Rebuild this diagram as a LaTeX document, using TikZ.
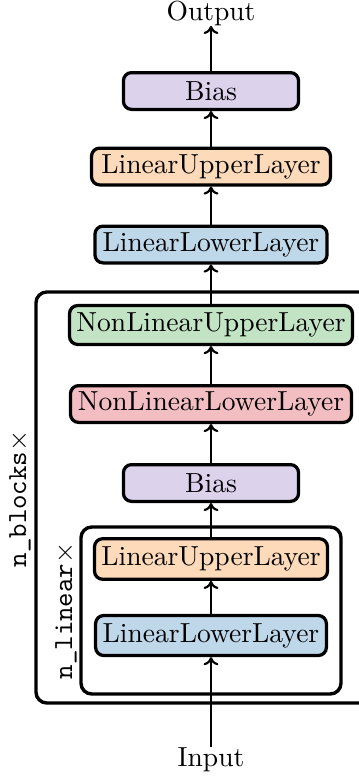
\documentclass[tikz,border=0pt]{standalone}
\usetikzlibrary{arrows.meta}
\definecolor{cbias}{RGB}{220,210,235}
\definecolor{corange}{RGB}{253,218,186}
\definecolor{cblue}{RGB}{190,216,234}
\definecolor{cgreen}{RGB}{194,228,196}
\definecolor{cred}{RGB}{242,190,194}
\begin{document}
\begin{tikzpicture}[x=0.37pt,y=-0.37pt,
  layer/.style={draw=black,line width=1.2pt,rounded corners=3pt,inner sep=0pt,minimum height=13.6pt,font=\fontsize{10.2}{12}\selectfont},
  frame/.style={draw=black,line width=1.25pt,rounded corners=4pt},
  flow/.style={line width=0.8pt,-{To[length=3pt,width=5.5pt]}},
  lbl/.style={font=\fontsize{10.2}{12}\selectfont,inner sep=0pt}]
\useasboundingbox (0,0) rectangle (359,781);
\clip (0,0) rectangle (359,781);
% frames
\draw[frame] (36,292) rectangle (380,703);
\draw[frame] (81,527) rectangle (341,694);
% nodes
\node[lbl] (out) at (211,13) {Output};
\node[layer,fill=cbias,minimum width=64.8pt] (b1) at (211,91) {Bias};
\node[layer,fill=corange,minimum width=88.4pt] (lu1) at (211,166.5) {LinearUpperLayer};
\node[layer,fill=cblue,minimum width=85.9pt] (ll1) at (211,244.5) {LinearLowerLayer};
\node[layer,fill=cgreen,minimum width=104.7pt,minimum height=14.4pt] (nu) at (211,325) {NonLinearUpperLayer};
\node[layer,fill=cred,minimum width=104pt] (nl) at (211,404) {NonLinearLowerLayer};
\node[layer,fill=cbias,minimum width=64.8pt] (b2) at (211,483) {Bias};
\node[layer,fill=corange,minimum width=86.2pt,minimum height=15pt] (lu2) at (211,559) {LinearUpperLayer};
\node[layer,fill=cblue,minimum width=85.4pt,minimum height=14.8pt] (ll2) at (211,635.5) {LinearLowerLayer};
\node[lbl] (in) at (211,760) {Input};
\node[lbl,rotate=90] (nb) at (20,499) {\ttfamily n\_blocks$\times$};
\node[lbl,rotate=90] (nlin) at (66,611) {\ttfamily n\_linear$\times$};
% connectors
\draw[flow] (in.north) -- (ll2.south);
\draw[flow] (ll2.north) -- (lu2.south);
\draw[flow] (lu2.north) -- (b2.south);
\draw[flow] (b2.north) -- (nl.south);
\draw[flow] (nl.north) -- (nu.south);
\draw[flow] (nu.north) -- (ll1.south);
\draw[flow] (ll1.north) -- (lu1.south);
\draw[flow] (lu1.north) -- (b1.south);
\draw[flow] (b1.north) -- (out.south);
\end{tikzpicture}
\end{document}
